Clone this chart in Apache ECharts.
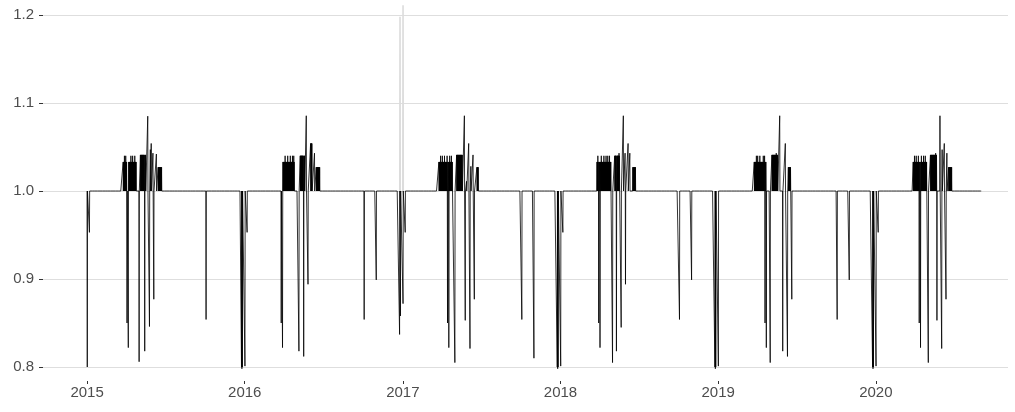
<!DOCTYPE html>
<html>
<head>
<meta charset="utf-8">
<script src="https://cdn.jsdelivr.net/npm/echarts@6/dist/echarts.min.js"></script>
<style>
  html, body { margin: 0; padding: 0; background: #ffffff; }
  #chart { width: 1015px; height: 412px; }
</style>
</head>
<body>
<div id="chart"></div>
<script>
// Daily factor series: 1.0 on ordinary days.
const seriesStart = '2015-01-01';
const seriesEnd = '2020-09-01';

// Axis tick labels
const yearTicks = [2015, 2016, 2017, 2018, 2019, 2020];
const valueTicks = [0.8, 0.9, 1.0, 1.1, 1.2];

// Public holidays: [date, factor]
const holidayDips = [
  ['2015-01-01', 0.800], ['2015-01-06', 0.953], ['2015-04-03', 0.850], ['2015-04-06', 0.822],
  ['2015-05-01', 0.806], ['2015-05-14', 0.818], ['2015-05-25', 0.846], ['2015-06-04', 0.877],
  ['2015-10-03', 0.854], ['2015-12-24', 0.800], ['2015-12-25', 0.798], ['2015-12-26', 0.800],

  ['2016-01-01', 0.801], ['2016-01-06', 0.953], ['2016-03-25', 0.850], ['2016-03-28', 0.822],
  ['2016-05-05', 0.818], ['2016-05-16', 0.812], ['2016-05-26', 0.894], ['2016-10-03', 0.854],
  ['2016-10-31', 0.899], ['2016-12-24', 0.837], ['2016-12-26', 0.858],

  ['2017-01-01', 0.872], ['2017-01-06', 0.953], ['2017-04-14', 0.850], ['2017-04-17', 0.822],
  ['2017-05-01', 0.805], ['2017-05-25', 0.853], ['2017-06-05', 0.821], ['2017-06-15', 0.877],
  ['2017-10-03', 0.854], ['2017-10-31', 0.810], ['2017-12-24', 0.800], ['2017-12-25', 0.798],
  ['2017-12-26', 0.800],

  ['2018-01-01', 0.801], ['2018-01-06', 0.953], ['2018-03-30', 0.850], ['2018-04-02', 0.822],
  ['2018-05-01', 0.805], ['2018-05-10', 0.818], ['2018-05-21', 0.845], ['2018-05-31', 0.894],
  ['2018-10-03', 0.854], ['2018-10-31', 0.899], ['2018-12-24', 0.800], ['2018-12-25', 0.798],
  ['2018-12-26', 0.800],

  ['2019-01-01', 0.801], ['2019-04-19', 0.850], ['2019-04-22', 0.822], ['2019-05-01', 0.805],
  ['2019-05-30', 0.818], ['2019-06-10', 0.812], ['2019-06-20', 0.877], ['2019-10-03', 0.854],
  ['2019-10-31', 0.899], ['2019-12-24', 0.800], ['2019-12-25', 0.798], ['2019-12-26', 0.800],

  ['2020-01-01', 0.801], ['2020-01-06', 0.953], ['2020-04-10', 0.850], ['2020-04-13', 0.822],
  ['2020-05-01', 0.805], ['2020-05-21', 0.853], ['2020-06-01', 0.821], ['2020-06-11', 0.877]
];

// School break periods: [first day, last day, daytime factor]
const breakPeriods = [
  ['2015-03-25', '2015-04-02', 1.033], ['2015-04-07', '2015-04-24', 1.033],
  ['2015-05-04', '2015-05-16', 1.041], ['2015-06-14', '2015-06-22', 1.027],

  ['2016-03-29', '2016-04-24', 1.033], ['2016-05-08', '2016-05-18', 1.040],
  ['2016-06-01', '2016-06-04', 1.054], ['2016-06-14', '2016-06-22', 1.027],

  ['2017-03-25', '2017-04-25', 1.033], ['2017-05-05', '2017-05-18', 1.041],
  ['2017-06-21', '2017-06-24', 1.027],

  ['2018-03-26', '2018-04-27', 1.033], ['2018-05-06', '2018-05-17', 1.040],
  ['2018-06-17', '2018-06-23', 1.027],

  ['2019-03-25', '2019-04-21', 1.033], ['2019-05-05', '2019-05-18', 1.041],
  ['2019-06-12', '2019-06-17', 1.027],

  ['2020-03-27', '2020-04-27', 1.033], ['2020-05-06', '2020-05-21', 1.041],
  ['2020-06-17', '2020-06-24', 1.027]
];

// Single days with a raised factor: [date, factor]
const peakDays = [
  ['2015-03-28', 1.040], ['2015-03-31', 1.040], ['2015-04-12', 1.040], ['2015-04-16', 1.040],
  ['2015-04-21', 1.040], ['2015-05-21', 1.085], ['2015-05-27', 1.047], ['2015-05-29', 1.054],
  ['2015-06-02', 1.043], ['2015-06-10', 1.042],

  ['2016-04-03', 1.040], ['2016-04-09', 1.040], ['2016-04-15', 1.040], ['2016-04-20', 1.040],
  ['2016-04-23', 1.040], ['2016-05-22', 1.0855], ['2016-06-10', 1.043],

  ['2017-03-29', 1.040], ['2017-04-02', 1.040], ['2017-04-07', 1.040], ['2017-04-13', 1.040],
  ['2017-04-19', 1.040], ['2017-04-23', 1.040], ['2017-05-23', 1.0855], ['2017-05-28', 1.011],
  ['2017-06-02', 1.054], ['2017-06-07', 1.028], ['2017-06-12', 1.041],

  ['2018-03-28', 1.040], ['2018-04-05', 1.040], ['2018-04-11', 1.040], ['2018-04-16', 1.040],
  ['2018-04-20', 1.040], ['2018-04-24', 1.040], ['2018-05-16', 1.043], ['2018-05-26', 1.0855],
  ['2018-05-30', 1.043], ['2018-06-06', 1.054], ['2018-06-10', 1.043],

  ['2019-03-30', 1.040], ['2019-04-02', 1.040], ['2019-04-07', 1.040], ['2019-04-15', 1.040],
  ['2019-04-18', 1.040], ['2019-05-15', 1.043], ['2019-05-23', 1.0855], ['2019-06-05', 1.054],

  ['2020-03-30', 1.040], ['2020-04-03', 1.040], ['2020-04-08', 1.040], ['2020-04-15', 1.040],
  ['2020-04-20', 1.040], ['2020-04-24', 1.040], ['2020-05-18', 1.043], ['2020-05-28', 1.0855],
  ['2020-06-02', 1.047], ['2020-06-07', 1.054], ['2020-06-13', 1.043]
];

// Flagged days shown in light grey: [date, factor]
const flaggedDays = [
  ['2016-12-25', 1.198], ['2017-01-01', 1.211]
];

const DAY = 86400000;
const toTs = s => Date.parse(s + 'T00:00:00Z');

const dipByDay = new Map(holidayDips.map(([d, v]) => [toTs(d), v]));
const peakByDay = new Map(peakDays.map(([d, v]) => [toTs(d), v]));
const periods = breakPeriods.map(([a, b, v]) => [toTs(a), toTs(b), v]);

function factorOn(t) {
  if (dipByDay.has(t)) return dipByDay.get(t);
  if (peakByDay.has(t)) return peakByDay.get(t);
  for (const [a, b, v] of periods) {
    if (t >= a && t <= b) return v;
  }
  return 1;
}

// Each day: 1.0 at midnight, the day's factor at midday.
const factorLine = [];
for (let t = toTs(seriesStart); t <= toTs(seriesEnd); t += DAY) {
  factorLine.push([t, 1]);
  factorLine.push([t + DAY / 2, factorOn(t)]);
}

const flaggedLine = [];
flaggedDays.forEach(([d, v]) => {
  const t = toTs(d);
  flaggedLine.push([t, 1], [t + DAY / 2, v], [t + DAY, 1], '-');
});

const chart = echarts.init(document.getElementById('chart'), null, { renderer: 'canvas' });

const labelStyle = {
  color: '#4d4d4d',
  fontFamily: '"Liberation Sans", Arial, sans-serif',
  fontSize: 15
};

chart.setOption({
  animation: false,
  backgroundColor: '#ffffff',
  grid: { left: 43, right: 7, top: 15, bottom: 45, containLabel: false },
  xAxis: {
    type: 'value',
    min: toTs('2015-01-01') - 102 * DAY,
    max: toTs('2015-01-01') + 2132 * DAY,
    offset: 14,
    axisLine: { show: false },
    axisTick: {
      show: true, length: 3,
      lineStyle: { color: '#333333', width: 1 },
      customValues: yearTicks.map(y => Date.UTC(y, 0, 1))
    },
    axisLabel: Object.assign({
      margin: 4,
      customValues: yearTicks.map(y => Date.UTC(y, 0, 1)),
      formatter: v => String(new Date(v).getUTCFullYear())
    }, labelStyle),
    splitLine: { show: false }
  },
  yAxis: {
    type: 'value',
    min: valueTicks[0],
    max: valueTicks[valueTicks.length - 1],
    interval: 0.1,
    axisLine: { show: false },
    axisTick: { show: true, length: 4, lineStyle: { color: '#333333', width: 1 } },
    axisLabel: Object.assign({
      margin: 9,
      formatter: v => v.toFixed(1)
    }, labelStyle),
    splitLine: { show: true, lineStyle: { color: '#dedede', width: 1.2 } }
  },
  series: [
    {
      type: 'line',
      data: flaggedLine,
      showSymbol: false,
      symbol: 'none',
      clip: false,
      connectNulls: false,
      lineStyle: { color: '#dcdcdc', width: 1.6 },
      z: 2
    },
    {
      type: 'line',
      data: factorLine,
      showSymbol: false,
      symbol: 'none',
      clip: false,
      lineStyle: { color: '#000000', width: 0.8 },
      z: 3
    }
  ]
});
</script>
</body>
</html>
